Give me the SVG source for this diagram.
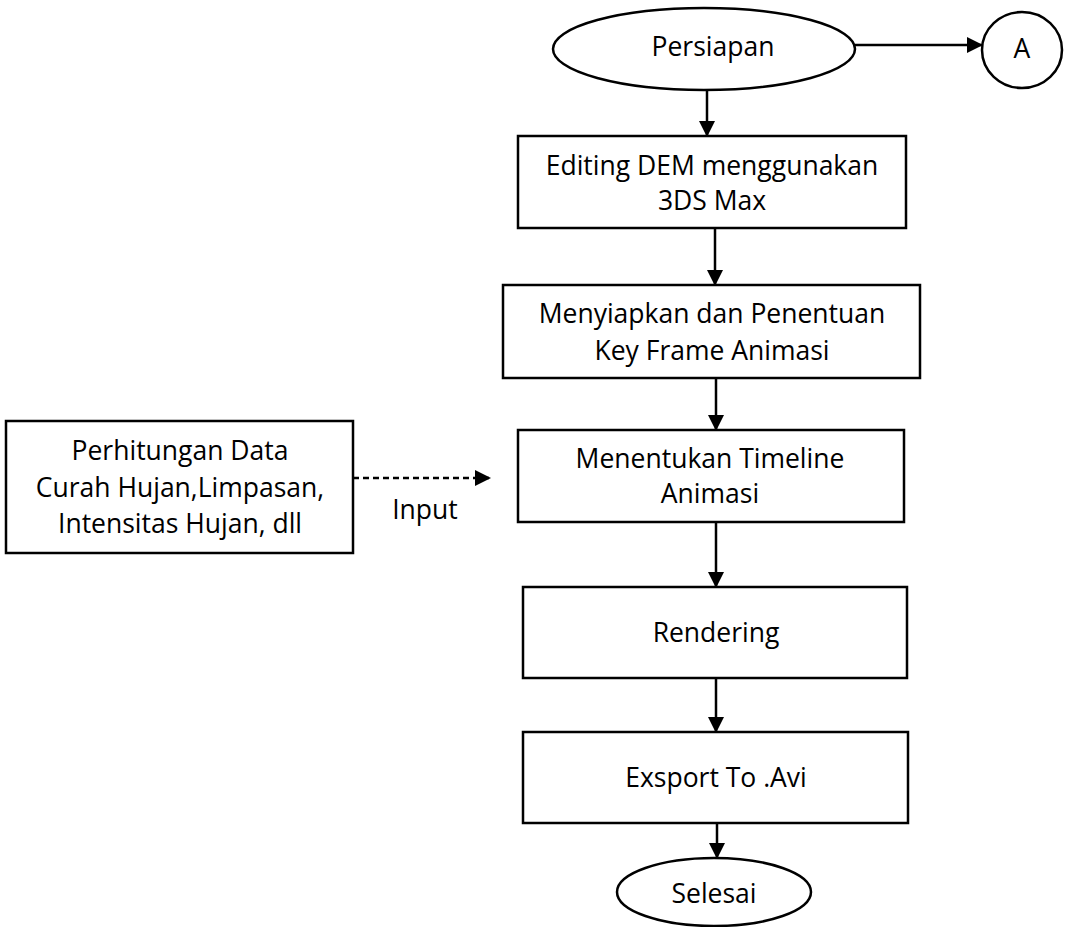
<svg xmlns="http://www.w3.org/2000/svg" width="1086" height="927" viewBox="0 0 1086 927">
<style>
.shape{fill:#fff;stroke:#000;stroke-width:2.5}
.t{font-family:"Open Sans","Noto Sans",sans-serif;font-size:26.5px;font-weight:500;fill:#000;text-anchor:middle}
.c{stroke:#000;stroke-width:2.5;fill:none}
</style>
<defs>
<marker id="ah" markerWidth="16" markerHeight="16" refX="15" refY="8" orient="auto" markerUnits="userSpaceOnUse">
<path d="M0,0 L16,8 L0,16 Z" fill="#000"/>
</marker>
</defs>
<rect width="1086" height="927" fill="#fff"/>
<g id="connectors">
<line class="c" x1="855" y1="45" x2="982" y2="45" marker-end="url(#ah)"/>
<line class="c" x1="707" y1="90" x2="707" y2="136" marker-end="url(#ah)"/>
<line class="c" x1="715" y1="228" x2="715" y2="285" marker-end="url(#ah)"/>
<line class="c" x1="716" y1="378" x2="716" y2="430" marker-end="url(#ah)"/>
<line class="c" x1="716" y1="522" x2="716" y2="587" marker-end="url(#ah)"/>
<line class="c" x1="716" y1="678" x2="716" y2="732" marker-end="url(#ah)"/>
<line class="c" x1="717" y1="823" x2="717" y2="858" marker-end="url(#ah)"/>
<line class="c" x1="353" y1="478" x2="490" y2="478" stroke-dasharray="6,4" marker-end="url(#ah)"/>
<text class="t" x="425" y="519">Input</text>
</g>
<g id="persiapan">
<ellipse class="shape" cx="704" cy="49" rx="151" ry="41"/>
<text class="t" x="713" y="56">Persiapan</text>
</g>
<g id="a">
<ellipse class="shape" cx="1022" cy="50" rx="40" ry="38"/>
<text class="t" x="1022" y="58">A</text>
</g>
<g id="editing">
<rect class="shape" x="518" y="136" width="388" height="92"/>
<text class="t" x="712" y="175">Editing DEM menggunakan</text>
<text class="t" x="712" y="210">3DS Max</text>
</g>
<g id="menyiapkan">
<rect class="shape" x="503" y="285" width="417" height="93"/>
<text class="t" x="712" y="323">Menyiapkan dan Penentuan</text>
<text class="t" x="712" y="360">Key Frame Animasi</text>
</g>
<g id="menentukan">
<rect class="shape" x="518" y="430" width="386" height="92"/>
<text class="t" x="710" y="468">Menentukan Timeline</text>
<text class="t" x="710" y="503">Animasi</text>
</g>
<g id="rendering">
<rect class="shape" x="523" y="587" width="384" height="91"/>
<text class="t" x="716" y="642">Rendering</text>
</g>
<g id="export">
<rect class="shape" x="523" y="732" width="385" height="91"/>
<text class="t" x="716" y="787">Exsport To .Avi</text>
</g>
<g id="selesai">
<ellipse class="shape" cx="714" cy="892" rx="97" ry="34"/>
<text class="t" x="714" y="903">Selesai</text>
</g>
<g id="perhitungan">
<rect class="shape" x="6" y="421" width="347" height="132"/>
<text class="t" x="180" y="460">Perhitungan Data</text>
<text class="t" x="180" y="497">Curah Hujan,Limpasan,</text>
<text class="t" x="180" y="533">Intensitas Hujan, dll</text>
</g>
</svg>
